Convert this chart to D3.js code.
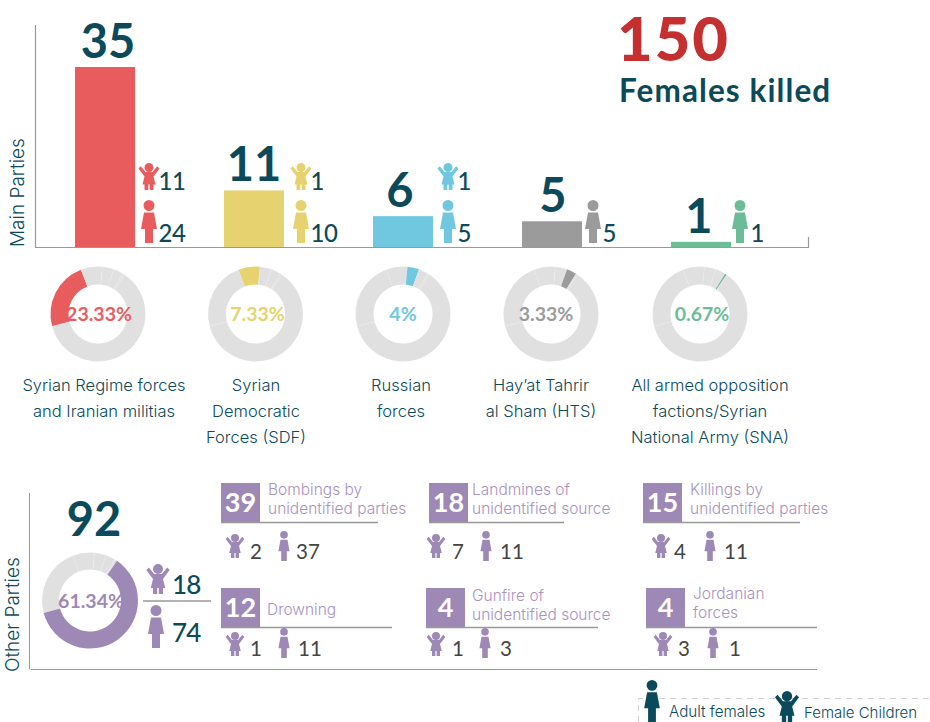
<!DOCTYPE html>
<html>
<head>
<meta charset="utf-8">
<script src="https://cdn.jsdelivr.net/npm/d3@7"></script>
<style>
  html, body { margin: 0; padding: 0; background: #fff; }
  text { font-family: Lato, sans-serif; }
  .thin { font-family: Inter, sans-serif; font-weight: 300; }
</style>
</head>
<body>
<div id="chart"></div>
<script>
// main parties
const parties = ["Syrian Regime", "SDF", "Russian", "HTS", "SNA"];
const partyTotals = [35, 11, 6, 5, 1];
const partyChildren = [11, 1, 1, 0, 0];
const partyAdults = [24, 10, 5, 5, 1];
const partyShares = ["23.33%", "7.33%", "4%", "3.33%", "0.67%"];
const partyLabels = [
  ["Syrian Regime forces", "and Iranian militias"],
  ["Syrian", "Democratic", "Forces (SDF)"],
  ["Russian", "forces"],
  ["Hay’at Tahrir", "al Sham (HTS)"],
  ["All armed opposition", "factions/Syrian", "National Army (SNA)"]
];

// other parties
const otherTotal = 92, otherChildren = 18, otherAdults = 74, otherShare = "61.34%";
const cardTotals = [39, 18, 15, 12, 4, 4];
const cardChildren = [2, 7, 4, 1, 1, 3];
const cardAdults = [37, 11, 11, 11, 3, 1];
const cardLabels = [
  ["Bombings by", "unidentified parties"],
  ["Landmines of", "unidentified source"],
  ["Killings by", "unidentified parties"],
  ["Drowning"],
  ["Gunfire of", "unidentified source"],
  ["Jordanian", "forces"]
];

// every donut is the same split of the 150, only the lit slice changes
const donutValues = [35, 11, 6, 5, 1, 92];

const partyColors = ["#e95c5e", "#e6d36f", "#70c7e0", "#9b9b9b", "#6cbc98"];
const teal = "#0b4a5a", purple = "#9e88b5", ringGray = "#e0e0e0", axisGray = "#999";

const svg = d3.select("#chart").append("svg")
  .attr("width", 930).attr("height", 722)
  .style("display", "block");

// person icons, in px at their natural height, origin at top centre
const adultPath = "M-5.5,5.5a5.5,5.5 0 1,0 11,0a5.5,5.5 0 1,0 -11,0Z" +
  "M-5,12.5L5,12.5L8,29L4,29L4,43L-4,43L-4,29L-8,29Z";
const childPath = "M-4.5,4.5a4.5,4.5 0 1,0 9,0a4.5,4.5 0 1,0 -9,0Z" +
  "M-10.5,5.5L-8.2,3.2L-3.5,9L3.5,9L8.2,3.2L10.5,5.5L4.5,13.5L6.5,21.5L4.5,21.5L4.5,27L0.7,27L0.7,21.5L-0.7,21.5L-0.7,27L-4.5,27L-4.5,21.5L-6.5,21.5L-4.5,13.5Z";

function adult(g, cx, top, h, color) {
  g.append("path").attr("d", adultPath).attr("fill", color)
    .attr("transform", `translate(${cx},${top}) scale(${h / 43})`);
}
function child(g, cx, top, h, color) {
  g.append("path").attr("d", childPath).attr("fill", color)
    .attr("transform", `translate(${cx},${top}) scale(${h / 27})`);
}

// bars
const x = d3.scaleBand().domain(parties).range([75, 731]).paddingInner(89 / 149).paddingOuter(0);
const y = d3.scaleLinear().domain([0, 35]).range([247, 67]);

svg.append("g").selectAll("rect")
  .data(parties)
  .enter().append("rect")
  .attr("x", d => x(d))
  .attr("y", (d, i) => y(partyTotals[i]))
  .attr("width", x.bandwidth())
  .attr("height", (d, i) => y(0) - y(partyTotals[i]))
  .attr("fill", (d, i) => partyColors[i]);

// axis frame
const frame = svg.append("g").attr("stroke", axisGray).attr("fill", "none");
frame.append("path").attr("d", "M35.5,25V247.5H808.5V237").attr("stroke-width", 1.2);
frame.append("path").attr("d", "M29.5,493V669.5").attr("stroke-width", 1);
frame.append("path").attr("d", "M31,669.5H817").attr("stroke-width", 1);

svg.append("text").attr("class", "thin")
  .attr("transform", "translate(24,247) rotate(-90)")
  .attr("font-size", 19).attr("fill", teal).text("Main Parties");
svg.append("text").attr("class", "thin")
  .attr("transform", "translate(18.5,672) rotate(-90)")
  .attr("font-size", 19).attr("fill", teal).text("Other Parties");

// totals over the bars
const totalNudge = [3, 0, -3, 1, -2];
svg.append("g").selectAll("text")
  .data(partyTotals)
  .enter().append("text")
  .attr("x", (d, i) => x(parties[i]) + x.bandwidth() / 2 + totalNudge[i])
  .attr("y", d => y(d) - 9)
  .attr("text-anchor", "middle")
  .attr("font-size", 47).attr("font-weight", 700)
  .attr("fill", teal)
  .text(d => d);

// icons and counts next to bars
const iconOffset = [14, 17, 15, 11, 9];
const numOffset = [9.5, 9.5, 9.5, 9.5, 10.5];
const iconLayer = svg.append("g");
parties.forEach((p, i) => {
  const cx = x(p) + x.bandwidth() + iconOffset[i];
  adult(iconLayer, cx, 200, 43, partyColors[i]);
  iconLayer.append("text")
    .attr("x", cx + numOffset[i]).attr("y", 242)
    .attr("font-size", 24).attr("font-weight", 500).attr("letter-spacing", -0.4).attr("fill", teal)
    .text(partyAdults[i]);
  if (partyChildren[i] > 0) {
    child(iconLayer, cx, 163, 27, partyColors[i]);
    iconLayer.append("text")
      .attr("x", cx + numOffset[i]).attr("y", 190)
      .attr("font-size", 24).attr("font-weight", 500).attr("letter-spacing", -0.4).attr("fill", teal)
      .text(partyChildren[i]);
  }
});

// headline
svg.append("text").attr("x", 617).attr("y", 61)
  .attr("font-size", 61.5).attr("font-weight", 900).attr("letter-spacing", 2)
  .attr("fill", "#c62f2f").text("150");
svg.append("text").attr("x", 619).attr("y", 102)
  .attr("font-size", 31.5).attr("font-weight", 700).attr("letter-spacing", 1.1)
  .attr("fill", teal).text("Females killed");

// donuts
const pie = d3.pie().sort(null)
  .startAngle(-105 * Math.PI / 180)
  .endAngle(255 * Math.PI / 180);

function donut(cx, cy, r0, r1, lit, color, label, fontSize, labelNudge) {
  const g = svg.append("g").attr("transform", `translate(${cx},${cy})`);
  const arc = d3.arc().innerRadius(r0).outerRadius(r1);
  g.selectAll("path")
    .data(pie(donutValues))
    .enter().append("path")
    .attr("d", arc)
    .attr("fill", (d, i) => i === lit ? color : ringGray)
    .attr("stroke", "#fff")
    .attr("stroke-opacity", (d, i) => i === lit ? 0 : 0.2)
    .attr("stroke-width", 0.5);
  g.append("text")
    .attr("x", labelNudge)
    .attr("y", fontSize * 0.36)
    .attr("text-anchor", "middle")
    .attr("font-size", fontSize).attr("font-weight", 700)
    .attr("fill", color)
    .text(label);
}

const donutX = [98, 255.5, 403, 551, 700];
const shareNudge = [1, 2, 0, -5, 2];
parties.forEach((p, i) => {
  donut(donutX[i], 314, 29.5, 47.5, i, partyColors[i], partyShares[i], 19.5, shareNudge[i]);
});
donut(90, 600.5, 31, 48, 5, purple, otherShare, 19.5, 1);

// names under the donuts
const labelX = [104, 256, 401, 541, 710];
svg.append("g").selectAll("text")
  .data(partyLabels)
  .enter().append("text")
  .attr("class", "thin")
  .attr("text-anchor", "middle")
  .attr("font-size", 16.5)
  .attr("fill", teal)
  .each(function (lines, i) {
    d3.select(this).selectAll("tspan")
      .data(lines)
      .enter().append("tspan")
      .attr("x", labelX[i])
      .attr("y", (d, j) => 391 + j * 26)
      .text(d => d);
  });

// other parties summary
svg.append("text").attr("x", 94).attr("y", 536)
  .attr("text-anchor", "middle")
  .attr("font-size", 47).attr("font-weight", 700).attr("fill", teal).text(otherTotal);
child(svg, 158, 564, 30, purple);
svg.append("text").attr("x", 172).attr("y", 594)
  .attr("font-size", 26).attr("font-weight", 500).attr("letter-spacing", -0.8).attr("fill", teal).text(otherChildren);
svg.append("path").attr("d", "M143,601H211").attr("stroke", axisGray).attr("stroke-width", 1.5);
adult(svg, 156, 605, 43, purple);
svg.append("text").attr("x", 172).attr("y", 642)
  .attr("font-size", 26).attr("font-weight", 500).attr("letter-spacing", -0.8).attr("fill", teal).text(otherAdults);

// the six small cards
const cardBoxX = [221, 429, 643, 221, 426, 646];
const cardBoxY = [483, 483, 483, 588, 588, 588];
const cardRuleEnd = [378, 564, 800, 392, 598, 817];
const cardTextX = [268, 472, 690, 267, 472, 693];
const cardTextY = [495, 495, 495, 615, 601, 599];
const cardChildX = [235, 436, 661, 235, 436, 663];
const cardChildNumX = [250, 452, 674, 250, 452, 678];
const cardAdultX = [284, 486, 710, 284, 485, 713];
const cardAdultNumX = [296, 500, 724, 298, 500, 729];

cardTotals.forEach((total, i) => {
  const g = svg.append("g");
  const bx = cardBoxX[i], by = cardBoxY[i];
  const row2 = i > 2;
  g.append("rect").attr("x", bx).attr("y", by).attr("width", 39).attr("height", 39).attr("fill", purple);
  g.append("text").attr("x", bx + 19.5).attr("y", by + 29)
    .attr("text-anchor", "middle")
    .attr("font-size", 27).attr("font-weight", 700).attr("fill", "#fff").text(total);
  g.append("path").attr("d", `M${bx},${by + 39.5}H${cardRuleEnd[i]}`)
    .attr("stroke", axisGray).attr("stroke-width", 1.5);
  cardLabels[i].forEach((line, j) => {
    g.append("text").attr("class", "thin")
      .attr("x", cardTextX[i]).attr("y", cardTextY[i] + j * 19)
      .attr("font-size", 15.5).attr("fill", "#a892c0").text(line);
  });
  child(g, cardChildX[i], row2 ? 632 : 534, 24, purple);
  g.append("text").attr("x", cardChildNumX[i]).attr("y", row2 ? 656 : 559)
    .attr("font-size", 20.5).attr("fill", "#444").text(cardChildren[i]);
  adult(g, cardAdultX[i], row2 ? 628 : 531, 30, purple);
  g.append("text").attr("x", cardAdultNumX[i]).attr("y", row2 ? 656 : 559)
    .attr("font-size", 20.5).attr("fill", "#444").text(cardAdults[i]);
});

// legend
svg.append("path").attr("d", "M638.5,722V698.5H930")
  .attr("fill", "none").attr("stroke", "#d0d0d0").attr("stroke-dasharray", "6,5");
adult(svg, 652, 680, 42, teal);
child(svg, 787, 691, 31, teal);
svg.append("text").attr("class", "thin").attr("x", 669).attr("y", 717)
  .attr("font-size", 15.2).attr("fill", teal).text("Adult females");
svg.append("text").attr("class", "thin").attr("x", 804).attr("y", 718)
  .attr("font-size", 15).attr("fill", teal).text("Female Children");
</script>
</body>
</html>
